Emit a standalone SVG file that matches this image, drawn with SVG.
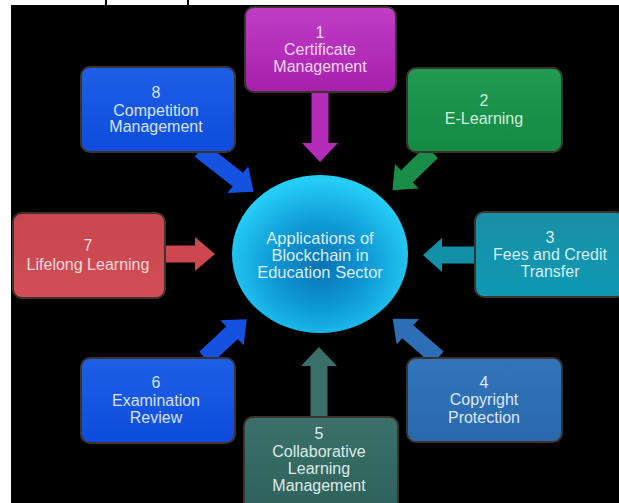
<svg xmlns="http://www.w3.org/2000/svg" width="619" height="503" viewBox="0 0 619 503">
  <defs>
    <style>
      .box { stroke: #3c342c; stroke-width: 2; }
      .lbl { font-family: "Liberation Sans", Arial, sans-serif; font-size: 16px; text-anchor: middle; }
      .hub { font-family: "Liberation Sans", Arial, sans-serif; font-size: 16.5px; text-anchor: middle; fill: #d9efff; }
    </style>
    <linearGradient id="gMag" x1="0" y1="0" x2="0" y2="1"><stop offset="0" stop-color="#c03ec6"/><stop offset="1" stop-color="#a71fae"/></linearGradient>
    <linearGradient id="gBlue" x1="0" y1="0" x2="0" y2="1"><stop offset="0" stop-color="#1f5fe6"/><stop offset="1" stop-color="#0d4cdc"/></linearGradient>
    <linearGradient id="gGreen" x1="0" y1="0" x2="0" y2="1"><stop offset="0" stop-color="#219a52"/><stop offset="1" stop-color="#148a44"/></linearGradient>
    <linearGradient id="gRed" x1="0" y1="0" x2="0" y2="1"><stop offset="0" stop-color="#c9464f"/><stop offset="1" stop-color="#d24d55"/></linearGradient>
    <linearGradient id="gTeal" x1="0" y1="0" x2="0" y2="1"><stop offset="0" stop-color="#1a8ea6"/><stop offset="1" stop-color="#0f99b4"/></linearGradient>
    <linearGradient id="gSteel" x1="0" y1="0" x2="0" y2="1"><stop offset="0" stop-color="#3275bb"/><stop offset="1" stop-color="#2a68ac"/></linearGradient>
    <linearGradient id="gSlate" x1="0" y1="0" x2="0" y2="1"><stop offset="0" stop-color="#3b706b"/><stop offset="1" stop-color="#2e615c"/></linearGradient>
    <radialGradient id="gHub" cx="50%" cy="58%" r="55%">
      <stop offset="0" stop-color="#0872b2"/>
      <stop offset="0.5" stop-color="#0f9ad6"/>
      <stop offset="1" stop-color="#26cef6"/>
    </radialGradient>
  </defs>

  <!-- page frame -->
  <rect x="0" y="0" width="619" height="503" fill="#ffffff"/>
  <rect x="11" y="5" width="608" height="498" fill="#000000"/>
  <line x1="106" y1="0" x2="106" y2="5" stroke="#000" stroke-width="2"/>
  <line x1="188" y1="0" x2="188" y2="5" stroke="#000" stroke-width="2"/>

  <!-- connectors: block arrows pointing to the hub -->
  <g id="connectors">
    <path fill="#b22cb8" d="M311.5,92 H328.5 V143 H338 L320,162 L302,143 H311.5 Z"/>
    <path fill="#3b6f6a" d="M310.5,417 H327.5 V366 H337 L319,347 L301,366 H310.5 Z"/>
    <path fill="#cc4750" d="M165,245.5 H195 V237 L215,254 L195,271 V262.5 H165 Z"/>
    <path fill="#138fa8" d="M475,246.5 H442 V238 L423,255 L442,272 V263.5 H475 Z"/>
    <path fill="#1652e0" transform="translate(200,150) rotate(38)" d="M0,-8.5 H48 V-17 L68,0 L48,17 V8.5 H0 Z"/>
    <path fill="#1a8d48" transform="translate(432,152) rotate(136)" d="M0,-8.5 H35 V-17 L55,0 L35,17 V8.5 H0 Z"/>
    <path fill="#1652e0" transform="translate(205,358) rotate(-43)" d="M0,-8.5 H37 V-17 L57,0 L37,17 V8.5 H0 Z"/>
    <path fill="#2d6fb6" transform="translate(438,358) rotate(-139)" d="M0,-8.5 H40 V-17 L60,0 L40,17 V8.5 H0 Z"/>
  </g>

  <!-- hub -->
  <g id="hub">
    <ellipse cx="320" cy="254" rx="88" ry="79" fill="url(#gHub)"/>
    <text class="hub" x="320" y="244">Applications of</text>
    <text class="hub" x="320" y="261">Blockchain in</text>
    <text class="hub" x="320" y="278">Education Sector</text>
  </g>

  <g id="node1">
    <rect class="box" x="245" y="7" width="151" height="85" rx="9" fill="url(#gMag)"/>
    <text class="lbl" fill="#f3d6f4" x="320" y="38">1</text>
    <text class="lbl" fill="#f3d6f4" x="320" y="55">Certificate</text>
    <text class="lbl" fill="#f3d6f4" x="320" y="72">Management</text>
  </g>

  <g id="node2">
    <rect class="box" x="407" y="68" width="155" height="84" rx="9" fill="url(#gGreen)"/>
    <text class="lbl" fill="#cfeedb" x="484" y="106">2</text>
    <text class="lbl" fill="#cfeedb" x="484" y="124">E-Learning</text>
  </g>

  <g id="node3">
    <rect class="box" x="475" y="212" width="150" height="85" rx="9" fill="url(#gTeal)"/>
    <text class="lbl" fill="#d3eff5" x="550" y="243">3</text>
    <text class="lbl" fill="#d3eff5" x="550" y="260">Fees and Credit</text>
    <text class="lbl" fill="#d3eff5" x="550" y="277">Transfer</text>
  </g>

  <g id="node4">
    <rect class="box" x="407" y="358" width="155" height="84" rx="9" fill="url(#gSteel)"/>
    <text class="lbl" fill="#dbe8f6" x="484" y="388">4</text>
    <text class="lbl" fill="#dbe8f6" x="484" y="405">Copyright</text>
    <text class="lbl" fill="#dbe8f6" x="484" y="423">Protection</text>
  </g>

  <g id="node5">
    <rect class="box" x="244" y="417" width="154" height="95" rx="9" fill="url(#gSlate)"/>
    <text class="lbl" fill="#dcece9" x="319" y="439">5</text>
    <text class="lbl" fill="#dcece9" x="319" y="457">Collaborative</text>
    <text class="lbl" fill="#dcece9" x="319" y="474">Learning</text>
    <text class="lbl" fill="#dcece9" x="319" y="491">Management</text>
  </g>

  <g id="node6">
    <rect class="box" x="81" y="358" width="154" height="85" rx="9" fill="url(#gBlue)"/>
    <text class="lbl" fill="#d6e2fb" x="156" y="388">6</text>
    <text class="lbl" fill="#d6e2fb" x="156" y="406">Examination</text>
    <text class="lbl" fill="#d6e2fb" x="156" y="423">Review</text>
  </g>

  <g id="node7">
    <rect class="box" x="13" y="213" width="152" height="85" rx="9" fill="url(#gRed)"/>
    <text class="lbl" fill="#f7dada" x="88" y="251">7</text>
    <text class="lbl" fill="#f7dada" x="88" y="270">Lifelong Learning</text>
  </g>

  <g id="node8">
    <rect class="box" x="81" y="67" width="154" height="85" rx="9" fill="url(#gBlue)"/>
    <text class="lbl" fill="#d6e2fb" x="156" y="98">8</text>
    <text class="lbl" fill="#d6e2fb" x="156" y="116">Competition</text>
    <text class="lbl" fill="#d6e2fb" x="156" y="132">Management</text>
  </g>
</svg>
